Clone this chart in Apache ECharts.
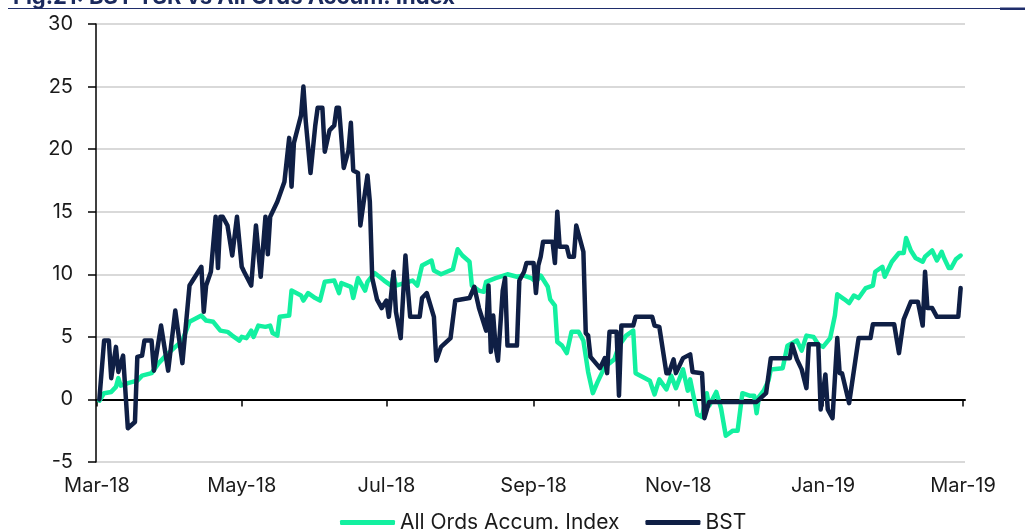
<!DOCTYPE html>
<html>
<head>
<meta charset="utf-8">
<script src="https://cdn.jsdelivr.net/npm/echarts@6/dist/echarts.min.js"></script>
<style>
html,body{margin:0;padding:0;background:#fff;}
#chart{width:1025px;height:531px;}
</style>
</head>
<body>
<div id="chart"></div>
<script>
const titleText = 'Fig.21: BST TSR vs All Ords Accum. Index';
const seriesNames = ['All Ords Accum. Index', 'BST'];

const tickDates = ['2018-03-01','2018-05-01','2018-07-01','2018-09-01','2018-11-01','2019-01-01','2019-03-01'];
const tickLabels = ['Mar-18','May-18','Jul-18','Sep-18','Nov-18','Jan-19','Mar-19'];

const aordDates = [
'2018-03-02','2018-03-04','2018-03-07','2018-03-09','2018-03-10','2018-03-11','2018-03-14','2018-03-18','2018-03-20','2018-03-24',
'2018-03-27','2018-03-30','2018-04-03','2018-04-06','2018-04-09','2018-04-11','2018-04-14','2018-04-16','2018-04-19','2018-04-22',
'2018-04-25','2018-04-27','2018-04-30','2018-05-01','2018-05-03','2018-05-05','2018-05-06','2018-05-08','2018-05-11','2018-05-13',
'2018-05-14','2018-05-16','2018-05-17','2018-05-21','2018-05-22','2018-05-26','2018-05-27','2018-05-29','2018-06-01','2018-06-03',
'2018-06-05','2018-06-09','2018-06-11','2018-06-12','2018-06-16','2018-06-17','2018-06-19','2018-06-22','2018-06-23','2018-06-26',
'2018-06-28','2018-06-30','2018-07-03','2018-07-04','2018-07-05','2018-07-12','2018-07-14','2018-07-16','2018-07-20','2018-07-21',
'2018-07-24','2018-07-29','2018-07-31','2018-08-02','2018-08-05','2018-08-06','2018-08-09','2018-08-11','2018-08-12','2018-08-16',
'2018-08-21','2018-08-25','2018-08-28','2018-08-31','2018-09-02','2018-09-04','2018-09-07','2018-09-08','2018-09-10','2018-09-11',
'2018-09-13','2018-09-15','2018-09-17','2018-09-20','2018-09-22','2018-09-24','2018-09-26','2018-09-28','2018-10-01','2018-10-05',
'2018-10-07','2018-10-10','2018-10-13','2018-10-14','2018-10-17','2018-10-20','2018-10-22','2018-10-24','2018-10-27','2018-10-29',
'2018-10-31','2018-11-03','2018-11-05','2018-11-06','2018-11-09','2018-11-11','2018-11-13','2018-11-14','2018-11-17','2018-11-19',
'2018-11-21','2018-11-24','2018-11-26','2018-11-28','2018-12-01','2018-12-03','2018-12-04','2018-12-05','2018-12-07','2018-12-09',
'2018-12-10','2018-12-15','2018-12-17','2018-12-21','2018-12-23','2018-12-25','2018-12-28','2018-12-30','2019-01-01','2019-01-04',
'2019-01-06','2019-01-07','2019-01-10','2019-01-12','2019-01-14','2019-01-16','2019-01-19','2019-01-22','2019-01-23','2019-01-26',
'2019-01-27','2019-01-30','2019-02-02','2019-02-04','2019-02-05','2019-02-07','2019-02-09','2019-02-12','2019-02-13','2019-02-16',
'2019-02-18','2019-02-20','2019-02-21','2019-02-23','2019-02-24','2019-02-26','2019-02-28'
];
const aordValues = [
-0.1,0.5,0.6,1.0,1.7,1.1,1.3,1.5,1.9,2.1,
2.9,3.5,4.2,4.7,6.2,6.4,6.7,6.3,6.2,5.5,
5.4,5.1,4.7,5.0,4.9,5.5,5.0,5.9,5.8,5.9,
5.3,5.1,6.6,6.7,8.7,8.3,7.9,8.5,8.1,7.9,
9.4,9.5,8.5,9.3,9.0,8.1,9.7,8.7,9.4,10.1,
9.8,9.5,9.1,9.9,9.1,9.5,9.1,10.7,11.1,10.3,
10.0,10.4,12.0,11.5,11.0,9.1,8.7,8.6,9.4,9.7,
10.0,9.8,9.9,9.7,9.4,9.9,9.0,8.0,7.5,4.6,
4.3,3.7,5.4,5.4,4.7,2.2,0.5,1.4,2.6,3.2,
4.3,5.1,5.5,2.1,1.8,1.5,0.4,1.6,0.8,1.9,
0.9,2.4,0.7,1.6,-1.2,-1.4,0.5,-0.5,0.6,-0.7,
-2.9,-2.5,-2.5,0.5,0.3,0.3,-1.1,0.2,0.7,1.5,
2.4,2.5,4.3,4.7,3.9,5.1,5.0,4.4,4.2,4.9,
6.7,8.4,8.0,7.7,8.3,8.1,8.9,9.1,10.2,10.6,
9.8,11.0,11.7,11.7,12.9,11.9,11.3,11.0,11.4,11.9,
11.1,11.8,11.3,10.5,10.5,11.2,11.5
];

const bstDates = [
'2018-03-02','2018-03-04','2018-03-06','2018-03-07','2018-03-09','2018-03-10','2018-03-12','2018-03-14','2018-03-17','2018-03-18',
'2018-03-20','2018-03-21','2018-03-24','2018-03-25','2018-03-28','2018-03-31','2018-04-03','2018-04-06','2018-04-09','2018-04-11',
'2018-04-14','2018-04-15','2018-04-16','2018-04-18','2018-04-20','2018-04-21','2018-04-22','2018-04-23','2018-04-25','2018-04-27',
'2018-04-29','2018-05-01','2018-05-02','2018-05-05','2018-05-07','2018-05-09','2018-05-11','2018-05-12','2018-05-13','2018-05-16',
'2018-05-19','2018-05-21','2018-05-22','2018-05-23','2018-05-26','2018-05-27','2018-05-28','2018-05-30','2018-06-01','2018-06-02',
'2018-06-04','2018-06-05','2018-06-07','2018-06-09','2018-06-10','2018-06-11','2018-06-13','2018-06-15','2018-06-16','2018-06-17',
'2018-06-19','2018-06-20','2018-06-22','2018-06-23','2018-06-24','2018-06-25','2018-06-27','2018-06-29','2018-07-01','2018-07-02',
'2018-07-04','2018-07-05','2018-07-07','2018-07-09','2018-07-10','2018-07-11','2018-07-15','2018-07-16','2018-07-18','2018-07-21',
'2018-07-22','2018-07-24','2018-07-28','2018-07-30','2018-08-05','2018-08-07','2018-08-09','2018-08-12','2018-08-13','2018-08-14',
'2018-08-15','2018-08-16','2018-08-17','2018-08-19','2018-08-20','2018-08-21','2018-08-25','2018-08-26','2018-08-28','2018-08-29',
'2018-09-01','2018-09-02','2018-09-03','2018-09-04','2018-09-05','2018-09-09','2018-09-10','2018-09-11','2018-09-12','2018-09-15',
'2018-09-16','2018-09-18','2018-09-19','2018-09-22','2018-09-23','2018-09-24','2018-09-25','2018-09-29','2018-10-01','2018-10-02',
'2018-10-03','2018-10-06','2018-10-07','2018-10-08','2018-10-13','2018-10-14','2018-10-21','2018-10-22','2018-10-24','2018-10-27',
'2018-10-28','2018-10-30','2018-10-31','2018-11-03','2018-11-06','2018-11-07','2018-11-11','2018-11-12','2018-11-14','2018-12-04',
'2018-12-08','2018-12-10','2018-12-18','2018-12-19','2018-12-21','2018-12-23','2018-12-25','2018-12-26','2018-12-30','2018-12-31',
'2019-01-02','2019-01-03','2019-01-05','2019-01-07','2019-01-08','2019-01-09','2019-01-12','2019-01-16','2019-01-21','2019-01-22',
'2019-01-31','2019-02-02','2019-02-04','2019-02-07','2019-02-10','2019-02-12','2019-02-13','2019-02-14','2019-02-16','2019-02-18',
'2019-02-27','2019-02-28'
];
const bstValues = [
0,4.7,4.7,1.7,4.2,2.2,3.5,-2.3,-1.8,3.4,
3.5,4.7,4.7,2.3,5.9,2.3,7.1,2.9,9.1,9.7,
10.6,7.0,9.1,10.2,14.6,10.5,14.6,14.6,13.9,11.5,
14.6,10.6,10.2,9.1,13.9,9.8,14.6,11.6,14.6,15.8,
17.4,20.9,17.0,20.5,22.7,25.0,22.2,18.1,21.9,23.3,
23.3,19.8,21.5,21.9,23.3,23.3,18.5,19.9,22.1,18.3,
18.1,13.9,16.6,17.9,15.8,9.7,8.0,7.3,7.9,6.6,
10.2,7.0,4.9,11.5,8.9,6.6,6.6,8.1,8.5,6.6,
3.1,4.2,4.9,7.9,8.1,9.0,7.3,5.5,9.1,3.8,
6.7,4.2,3.1,8.7,9.7,4.3,4.3,9.5,10.2,10.9,
10.9,8.5,10.7,11.4,12.6,12.6,10.9,15.0,12.2,12.2,
11.4,11.4,13.9,11.8,5.3,5.1,3.4,2.5,3.3,2.1,
5.4,5.4,0.3,5.9,5.9,6.6,6.6,5.9,5.8,2.1,
2.1,3.2,2.1,3.3,3.6,2.2,2.1,-1.5,-0.2,-0.2,
0.5,3.3,3.3,4.4,3.2,2.4,0.9,4.4,4.4,-0.8,
2.0,-0.8,-1.5,4.9,2.1,2.1,-0.3,4.9,4.9,6.0,
6.0,3.7,6.4,7.8,7.8,5.9,10.2,7.3,7.3,6.6,
6.6,8.9
];

function ts(s) {
  const p = s.split('-').map(Number);
  return Date.UTC(p[0], p[1] - 1, p[2]);
}
const HOUR = 3600 * 1000;
const tickTs = tickDates.map(ts);
const xMin = ts(tickDates[0]) - 10 * HOUR;
const xMax = ts(tickDates[tickDates.length - 1]) + 20 * HOUR;

function pairs(dates, vals) { return dates.map((d, i) => [ts(d), vals[i]]); }
function tickLabel(v) {
  let best = -1, bd = Infinity;
  tickTs.forEach((t, i) => { const dd = Math.abs(t - v); if (dd < bd) { bd = dd; best = i; } });
  return bd < 12 * HOUR ? tickLabels[best] : '';
}

const FONT = 'Inter';
const chart = echarts.init(document.getElementById('chart'), null, { renderer: 'canvas' });
chart.setOption({
  animation: false,
  backgroundColor: '#ffffff',
  textStyle: { fontFamily: FONT },
  title: {
    text: titleText,
    left: 8,
    top: -19,
    textStyle: { fontFamily: FONT, fontSize: 22, fontWeight: 'bold', color: '#1b2a5e' }
  },
  graphic: [
    { type: 'line', shape: { x1: 8, y1: 8.5, x2: 1000, y2: 8.5 }, style: { stroke: '#1f2d6b', lineWidth: 1.2 } },
    { type: 'rect', shape: { x: 1000, y: 7.5, width: 25, height: 2.5 }, style: { fill: '#1f2d6b' } }
  ],
  legend: {
    data: seriesNames,
    left: 335,
    top: 507,
    icon: 'roundRect',
    itemWidth: 55,
    itemHeight: 5,
    itemGap: 26,
    textStyle: { fontFamily: FONT, fontSize: 21, color: '#1a1a1a' }
  },
  grid: { left: 96, right: 60, top: 24, bottom: 69, containLabel: false },
  xAxis: [
    {
      type: 'value', min: xMin, max: xMax, position: 'bottom',
      axisLine: { show: false, onZero: false },
      axisTick: { show: false },
      splitLine: { show: false },
      axisLabel: {
        customValues: tickTs,
        formatter: tickLabel,
        fontFamily: FONT, fontSize: 20, color: '#1a1a1a', margin: 14,
        showMinLabel: true, showMaxLabel: true, hideOverlap: false
      }
    },
    {
      type: 'value', min: xMin, max: xMax, position: 'bottom',
      axisLine: { show: true, onZero: true, lineStyle: { color: '#000', width: 2 } },
      axisTick: { show: true, customValues: tickTs, length: 7, lineStyle: { color: '#000', width: 1.5 } },
      axisLabel: { show: false },
      splitLine: { show: false }
    }
  ],
  yAxis: {
    type: 'value', min: -5, max: 30, interval: 5,
    axisLine: { show: true, onZero: false, lineStyle: { color: '#000', width: 1.5 } },
    axisTick: { show: true, length: 8, lineStyle: { color: '#000', width: 1.5 } },
    axisLabel: { fontFamily: FONT, fontSize: 20, color: '#1a1a1a', margin: 23 },
    splitLine: { show: true, lineStyle: { color: '#d9d9d9', width: 2 } }
  },
  series: [
    {
      name: seriesNames[0], type: 'line', xAxisIndex: 0, showSymbol: false, symbol: 'none',
      data: pairs(aordDates, aordValues),
      itemStyle: { color: '#13f0a0' },
      lineStyle: { color: '#13f0a0', width: 4.5, cap: 'round', join: 'round' },
      z: 2
    },
    {
      name: seriesNames[1], type: 'line', xAxisIndex: 0, showSymbol: false, symbol: 'none',
      data: pairs(bstDates, bstValues),
      itemStyle: { color: '#0f1f45' },
      lineStyle: { color: '#0f1f45', width: 4.5, cap: 'round', join: 'round' },
      z: 3
    }
  ]
});
</script>
</body>
</html>
